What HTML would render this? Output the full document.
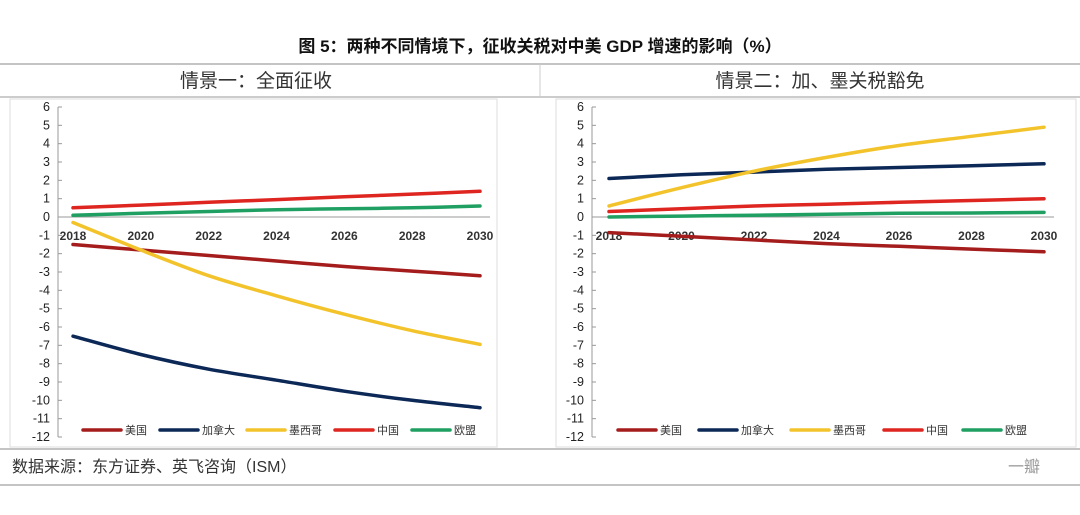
<!DOCTYPE html>
<html><head><meta charset="utf-8"><style>
body{margin:0;background:#fff;width:1080px;height:515px;overflow:hidden}
svg{display:block;font-family:"Liberation Sans","Noto Sans CJK SC",sans-serif}
</style></head><body>
<svg id="c" width="1080" height="515">
<text x="540" y="52" text-anchor="middle" font-size="17" font-weight="bold" fill="#111">图 5：两种不同情境下，征收关税对中美 GDP 增速的影响（%）</text>
<line x1="0" y1="64" x2="1080" y2="64" stroke="#888"/>
<line x1="0" y1="97" x2="1080" y2="97" stroke="#999"/>
<line x1="540" y1="64" x2="540" y2="97" stroke="#ccc"/>
<text x="256" y="87" text-anchor="middle" font-size="19" fill="#333">情景一：全面征收</text>
<text x="820" y="87" text-anchor="middle" font-size="19" fill="#333">情景二：加、墨关税豁免</text>
<rect x="10" y="99" width="487" height="348" fill="none" stroke="#ddd"/>
<rect x="556" y="99" width="520" height="348" fill="none" stroke="#ddd"/>
<line x1="0" y1="449" x2="1080" y2="449" stroke="#888"/>
<line x1="0" y1="485" x2="1080" y2="485" stroke="#888"/>
<text x="12" y="472" font-size="16" fill="#333">数据来源：东方证券、英飞咨询（ISM）</text>
<text x="1040" y="472" text-anchor="end" font-size="16" fill="#999">一瓣</text>
<g id="g1"></g><g id="g2"></g>
</svg>
<script>
const years=[2018,2020,2022,2024,2026,2028,2030];
const yTicks=[6,5,4,3,2,1,0,-1,-2,-3,-4,-5,-6,-7,-8,-9,-10,-11,-12];
const names=["美国","加拿大","墨西哥","中国","欧盟"];
const colors=["#a51c1c","#0c2857","#f3c32c","#de2520","#1fa062"];
const p1US=[-1.5,-1.8,-2.1,-2.4,-2.7,-2.95,-3.2];
const p1CA=[-6.5,-7.5,-8.3,-8.9,-9.5,-10.0,-10.4];
const p1MX=[-0.3,-1.8,-3.2,-4.3,-5.3,-6.2,-6.95];
const p1CN=[0.5,0.65,0.8,0.95,1.1,1.25,1.4];
const p1EU=[0.1,0.2,0.3,0.4,0.45,0.5,0.6];
const p2US=[-0.85,-1.05,-1.25,-1.45,-1.6,-1.75,-1.9];
const p2CA=[2.1,2.3,2.45,2.6,2.7,2.8,2.9];
const p2MX=[0.6,1.6,2.5,3.25,3.9,4.4,4.9];
const p2CN=[0.3,0.45,0.6,0.7,0.8,0.9,1.0];
const p2EU=[0,0.05,0.1,0.15,0.2,0.22,0.25];
const NS="http://www.w3.org/2000/svg";
function mk(p,t,a){const e=document.createElementNS(NS,t);for(const k in a)e.setAttribute(k,a[k]);p.appendChild(e);return e;}
function smooth(pts){
  let d='M'+pts[0][0].toFixed(1)+','+pts[0][1].toFixed(1);
  for(let i=0;i<pts.length-1;i++){
    const p0=pts[Math.max(0,i-1)],p1=pts[i],p2=pts[i+1],p3=pts[Math.min(pts.length-1,i+2)];
    const c1=[p1[0]+(p2[0]-p0[0])/6,p1[1]+(p2[1]-p0[1])/6];
    const c2=[p2[0]-(p3[0]-p1[0])/6,p2[1]-(p3[1]-p1[1])/6];
    d+='C'+c1.map(v=>v.toFixed(1))+' '+c2.map(v=>v.toFixed(1))+' '+p2.map(v=>v.toFixed(1));
  }
  return d;
}
function draw(gid,ax,x0,x1,series,legX){
  const g=document.getElementById(gid);
  const yT=107,yB=437;
  const y=v=>yT+(6-v)*(yB-yT)/18;
  const x=yr=>x0+(yr-2018)*(x1-x0)/12;
  let e=mk(g,'line',{x1:ax,y1:yT,x2:ax,y2:yB,stroke:'#999'});
  
  
  yTicks.forEach(v=>{
    let t=mk(g,'line',{x1:ax,y1:y(v),x2:ax+4,y2:y(v),stroke:'#999'});
    
    
    let l=mk(g,'text',{x:ax-8,y:y(v)+4,'text-anchor':'end','font-size':12.5,fill:'#222'});
    l.textContent=v;
    
    
  });
  e=mk(g,'line',{x1:ax,y1:y(0),x2:x1+10,y2:y(0),stroke:'#999'});
  
  
  years.forEach(yr=>{
    let l=mk(g,'text',{x:x(yr),y:y(0)+23,'text-anchor':'middle','font-size':12,'font-weight':'bold',fill:'#333'});
    l.textContent=yr;
    
    
  });
  series.forEach((s,i)=>{
    let p=mk(g,'path',{d:smooth(s.map((v,j)=>[x(years[j]),y(v)])),fill:'none',stroke:colors[i],'stroke-width':3.5,'stroke-linecap':'round','stroke-linejoin':'round'});
    
    
    let lx=legX[i];
    let ll=mk(g,'line',{x1:lx,y1:430,x2:lx+38,y2:430,stroke:colors[i],'stroke-width':3.5,'stroke-linecap':'round'});
    
    
    let lt=mk(g,'text',{x:lx+42,y:434,'font-size':11,fill:'#333'});
    lt.textContent=names[i];
    
    
  });
}
draw('g1',58,73,480,[p1US,p1CA,p1MX,p1CN,p1EU],[83,160,247,335,412]);
draw('g2',592,609,1044,[p2US,p2CA,p2MX,p2CN,p2EU],[618,699,791,884,963]);
</script>
</body></html>
